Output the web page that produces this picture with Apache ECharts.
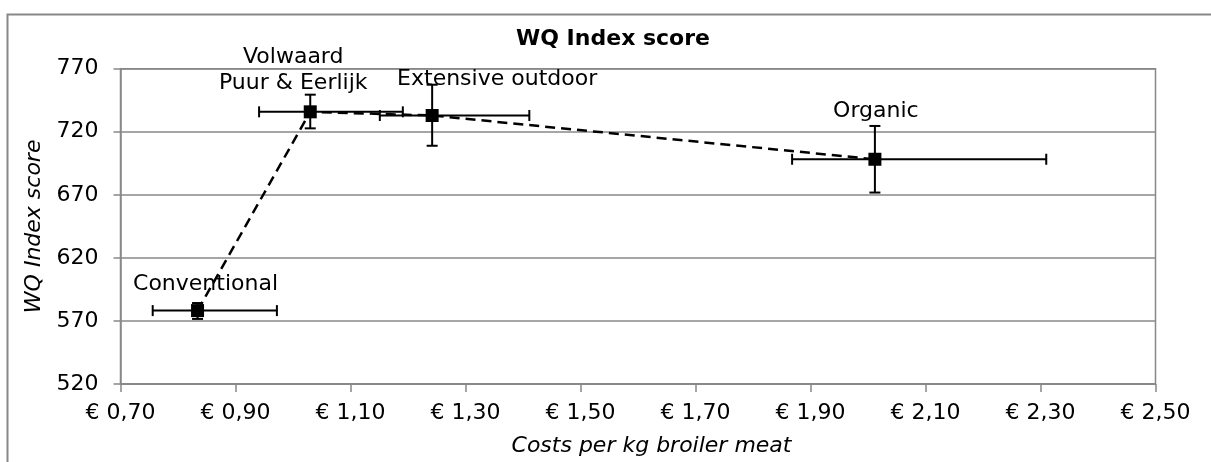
<!DOCTYPE html>
<html>
<head>
<meta charset="utf-8">
<script src="https://cdn.jsdelivr.net/npm/echarts@6/dist/echarts.min.js"></script>
<style>
html,body{margin:0;padding:0;background:#fff;}
#c{width:1211px;height:462px;}
</style>
</head>
<body>
<div id="c"></div>
<script>
// ---- data ----
const categories = ["Conventional", "Volwaard\nPuur & Eerlijk", "Extensive outdoor", "Organic"];
const costs      = [0.834, 1.030, 1.242, 2.012];
const costsLow   = [0.756, 0.941, 1.151, 1.868];
const costsHigh  = [0.972, 1.191, 1.411, 2.310];
const scores     = [578.2, 735.8, 732.9, 698.2];
const scoresLow  = [571.6, 722.7, 708.9, 671.8];
const scoresHigh = [584.2, 749.4, 757.3, 724.6];
const xTickLabels = [0.70, 0.90, 1.10, 1.30, 1.50, 1.70, 1.90, 2.10, 2.30, 2.50];
const yTickLabels = [520, 570, 620, 670, 720, 770];

// ---- styling (label offsets relative to markers) ----
const labelOffsets = [[8, -26], [-17, -42], [65, -36], [1, -48]];

const FONT = "DejaVu Sans";
const GRAY = "#888888";

const chart = echarts.init(document.getElementById('c'), null, {renderer: 'canvas'});

const lineData = costs.map((x, i) => ({
  value: [x, scores[i]],
  label: {offset: labelOffsets[i]}
}));
const errData = costs.map((x, i) => [x, scores[i], costsLow[i], costsHigh[i], scoresLow[i], scoresHigh[i]]);

const option = {
  animation: false,
  backgroundColor: '#fff',
  grid: {left: 120.5, right: 55.5, top: 68.7, bottom: 74.5, show: true, borderColor: GRAY, borderWidth: 1.5, containLabel: false},
  graphic: [
    {type: 'rect', shape: {x: 7.5, y: 14.5, width: 1400, height: 600}, style: {fill: null, stroke: GRAY, lineWidth: 2}, silent: true, z: 0},
    {type: 'text', x: 613, y: 39, style: {text: 'WQ Index score', font: 'bold 22px "' + FONT + '"', fill: '#000', textAlign: 'center', textVerticalAlign: 'middle'}, z: 10}
  ],
  xAxis: {
    type: 'value',
    min: xTickLabels[0],
    max: xTickLabels[xTickLabels.length - 1],
    name: 'Costs per kg broiler meat',
    nameLocation: 'middle',
    nameGap: 51,
    nameTextStyle: {fontFamily: FONT, fontSize: 22, fontStyle: 'italic', color: '#000', padding: [0, 0, 0, 27]},
    axisLine: {show: true, lineStyle: {color: GRAY, width: 1.5}},
    axisTick: {show: true, length: 8, inside: false, lineStyle: {color: GRAY, width: 1.5}, customValues: xTickLabels},
    axisLabel: {customValues: xTickLabels, fontFamily: FONT, fontSize: 22, color: '#000', margin: 18,
      formatter: v => '€ ' + Number(v).toFixed(2).replace('.', ',')},
    splitLine: {show: false}
  },
  yAxis: {
    type: 'value',
    min: yTickLabels[0],
    max: yTickLabels[yTickLabels.length - 1],
    interval: 50,
    name: 'WQ Index score',
    nameLocation: 'middle',
    nameGap: 74,
    nameTextStyle: {fontFamily: FONT, fontSize: 22, fontStyle: 'italic', color: '#000'},
    axisLine: {show: true, lineStyle: {color: GRAY, width: 1.5}},
    axisTick: {show: true, length: 7, lineStyle: {color: GRAY, width: 1.5}},
    axisLabel: {fontFamily: FONT, fontSize: 22, color: '#000', margin: 22},
    splitLine: {show: true, lineStyle: {color: GRAY, width: 1.5}}
  },
  series: [
    {
      type: 'custom',
      z: 3,
      renderItem: function (params, api) {
        const x = api.value(0), y = api.value(1);
        const xl = api.value(2), xh = api.value(3), yl = api.value(4), yh = api.value(5);
        const pL = api.coord([xl, y]), pR = api.coord([xh, y]);
        const pB = api.coord([x, yl]), pT = api.coord([x, yh]);
        const cap = 5.5;
        const st = {stroke: '#000', lineWidth: 2};
        return {
          type: 'group',
          children: [
            {type: 'line', shape: {x1: pL[0], y1: pL[1], x2: pR[0], y2: pR[1]}, style: st},
            {type: 'line', shape: {x1: pL[0], y1: pL[1] - cap, x2: pL[0], y2: pL[1] + cap}, style: st},
            {type: 'line', shape: {x1: pR[0], y1: pR[1] - cap, x2: pR[0], y2: pR[1] + cap}, style: st},
            {type: 'line', shape: {x1: pT[0], y1: pT[1], x2: pB[0], y2: pB[1]}, style: st},
            {type: 'line', shape: {x1: pT[0] - cap, y1: pT[1], x2: pT[0] + cap, y2: pT[1]}, style: st},
            {type: 'line', shape: {x1: pB[0] - cap, y1: pB[1], x2: pB[0] + cap, y2: pB[1]}, style: st}
          ]
        };
      },
      data: errData
    },
    {
      type: 'line',
      z: 4,
      data: lineData,
      symbol: 'rect',
      symbolSize: 13,
      showAllSymbol: true,
      itemStyle: {color: '#000'},
      lineStyle: {color: '#000', width: 2.5, type: [10, 6]},
      label: {
        show: true,
        position: 'inside',
        formatter: p => categories[p.dataIndex],
        fontFamily: FONT,
        fontSize: 22,
        lineHeight: 26,
        color: '#000',
        align: 'center',
        verticalAlign: 'middle'
      },
      emphasis: {disabled: true}
    }
  ]
};
chart.setOption(option);
</script>
</body>
</html>
